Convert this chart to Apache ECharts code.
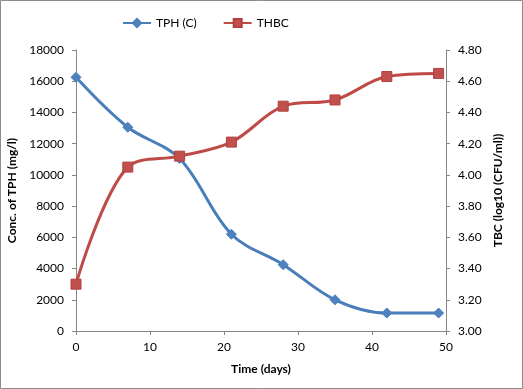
<!DOCTYPE html>
<html>
<head>
<meta charset="utf-8">
<script src="https://cdn.jsdelivr.net/npm/echarts@6/dist/echarts.min.js"></script>
<style>
  html, body { margin: 0; padding: 0; background: #fff; }
  #chart { width: 523px; height: 389px; }
</style>
</head>
<body>
<div id="chart"></div>
<script>
const days = [0, 7, 14, 21, 28, 35, 42, 49];
const tph = [16250, 13050, 11050, 6200, 4250, 2000, 1150, 1150];
const thbc = [3.30, 4.05, 4.12, 4.21, 4.44, 4.48, 4.63, 4.65];

const font = "Lato, 'Open Sans', sans-serif";
const axisGray = "#868686";

const chart = echarts.init(document.getElementById("chart"));

const option = {
  animation: false,
  textStyle: { fontFamily: font },
  graphic: [{
    type: "rect",
    shape: { x: 0.5, y: 0.5, width: 522, height: 388 },
    style: { fill: "none", stroke: "#8c8c8c", lineWidth: 1 },
    silent: true
  }],
  legend: {
    top: 12,
    left: 117,
    itemWidth: 28,
    itemHeight: 10,
    itemGap: 26,
    textStyle: { fontFamily: font, fontSize: 12, color: "#000" },
    data: ["TPH (C)", "THBC"]
  },
  grid: { left: 76, right: 77, top: 50, bottom: 58, outerBoundsMode: "none" },
  xAxis: {
    type: "value",
    min: 0, max: 50, interval: 10,
    name: "Time (days)",
    nameLocation: "middle",
    nameGap: 32,
    nameTextStyle: { fontFamily: font, fontSize: 12, fontWeight: "bold", color: "#000" },
    axisLine: { lineStyle: { color: axisGray } },
    axisTick: { length: 4, lineStyle: { color: axisGray } },
    axisLabel: { fontSize: 12, color: "#000", margin: 10 },
    splitLine: { show: false }
  },
  yAxis: [
    {
      type: "value",
      min: 0, max: 18000, interval: 2000,
      name: "Conc. of TPH (mg/l)",
      nameLocation: "middle",
      nameGap: 50,
      nameTextStyle: { fontFamily: font, fontSize: 12, fontWeight: "bold", color: "#000" },
      axisLine: { show: true, lineStyle: { color: axisGray } },
      axisTick: { show: true, length: 4, lineStyle: { color: axisGray } },
      axisLabel: { fontSize: 12, color: "#000", margin: 12, formatter: v => String(v) },
      splitLine: { show: false }
    },
    {
      type: "value",
      min: 3.0, max: 4.8, interval: 0.2,
      name: "TBC (log10 (CFU/ml))",
      nameLocation: "middle",
      nameGap: 45,
      nameRotate: 90,
      nameTextStyle: { fontFamily: font, fontSize: 12, fontWeight: "bold", color: "#000" },
      axisLine: { show: true, lineStyle: { color: axisGray } },
      axisTick: { show: true, length: 4, lineStyle: { color: axisGray } },
      axisLabel: { fontSize: 12, color: "#000", margin: 12, formatter: v => v.toFixed(2) },
      splitLine: { show: false }
    }
  ],
  series: [
    {
      name: "TPH (C)",
      type: "line",
      yAxisIndex: 0,
      smooth: 0.35,
      symbol: "diamond",
      symbolSize: 10,
      lineStyle: { color: "#4A7EBB", width: 3 },
      itemStyle: { color: "#4F81BD", borderColor: "#4A7EBB", borderWidth: 1 },
      data: days.map((d, i) => [d, tph[i]])
    },
    {
      name: "THBC",
      type: "line",
      yAxisIndex: 1,
      smooth: 0.35,
      symbol: "rect",
      symbolSize: 10,
      lineStyle: { color: "#BE4B48", width: 3 },
      itemStyle: { color: "#C0504D", borderColor: "#B3413E", borderWidth: 1 },
      data: days.map((d, i) => [d, thbc[i]])
    }
  ]
};

chart.setOption(option);
</script>
</body>
</html>
